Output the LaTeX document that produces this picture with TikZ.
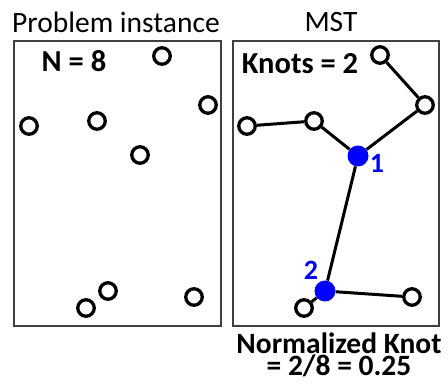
\documentclass[tikz,border=0pt]{standalone}
\usepackage{fontspec}
\setmainfont{Carlito}
\begin{document}
\begin{tikzpicture}[x = 1pt, y = -1pt,
        city/.style = {circle, draw = black, line width = 3.3pt, fill = white, minimum size = 16.5pt, inner sep = 0pt},
        knot/.style = {circle, fill = blue, minimum size = 21pt, inner sep = 0pt},
        edge/.style = {line width = 3pt},
        panel/.style = {draw = black!75, line width = 1.1pt},
        title/.style = {font = \fontsize{29.5}{31}\selectfont, inner sep = 0pt, anchor = base},
        label/.style = {font = \fontsize{30.5}{32}\selectfont\bfseries, inner sep = 0pt, anchor = base}]
        \useasboundingbox (0, 0) rectangle (448, 385);
        % panels
        \draw[panel] (14, 41) rectangle (221, 326);
        \draw[panel] (233, 41) rectangle (439, 326);
        \node[title] (t1) at (116, 33) {Problem instance};
        \node[title] (t2) at (331, 32) {MST};
        % problem instance
        \node[label] (n) at (74, 72) {N = 8};
        \node[city] (a1) at (162, 56) {};
        \node[city] (a2) at (208, 105) {};
        \node[city] (a3) at (29, 126) {};
        \node[city] (a4) at (97, 121) {};
        \node[city] (a5) at (140, 155) {};
        \node[city] (a6) at (86, 308) {};
        \node[city] (a7) at (108, 291) {};
        \node[city] (a8) at (194, 297) {};
        % minimum spanning tree
        \node[label] (k) at (300, 74) {Knots = 2};
        \node[city] (b1) at (380, 55) {};
        \node[city] (b2) at (425, 105) {};
        \node[city] (b3) at (247, 126) {};
        \node[city] (b4) at (314, 121) {};
        \node[knot] (k1) at (358, 156) {};
        \node[knot] (k2) at (325, 291) {};
        \node[city] (b7) at (304, 308) {};
        \node[city] (b8) at (412, 297) {};
        \draw[edge] (b1) -- (b2) -- (k1);
        \draw[edge] (b3) -- (b4) -- (k1);
        \draw[edge] (k1) -- (k2);
        \draw[edge] (k2) -- (b7);
        \draw[edge] (k2) -- (b8);
        \node[label, text = blue, font = \fontsize{28}{30}\selectfont\bfseries] (l1) at (377, 173) {1};
        \node[label, text = blue, font = \fontsize{28}{30}\selectfont\bfseries] (l2) at (311, 280) {2};
        \node[label, align = center, font = \fontsize{29.5}{22.5}\selectfont\bfseries] (nk) at (339, 376) {Normalized Knot\\= 2/8 = 0.25};
    \end{tikzpicture}
\end{document}
